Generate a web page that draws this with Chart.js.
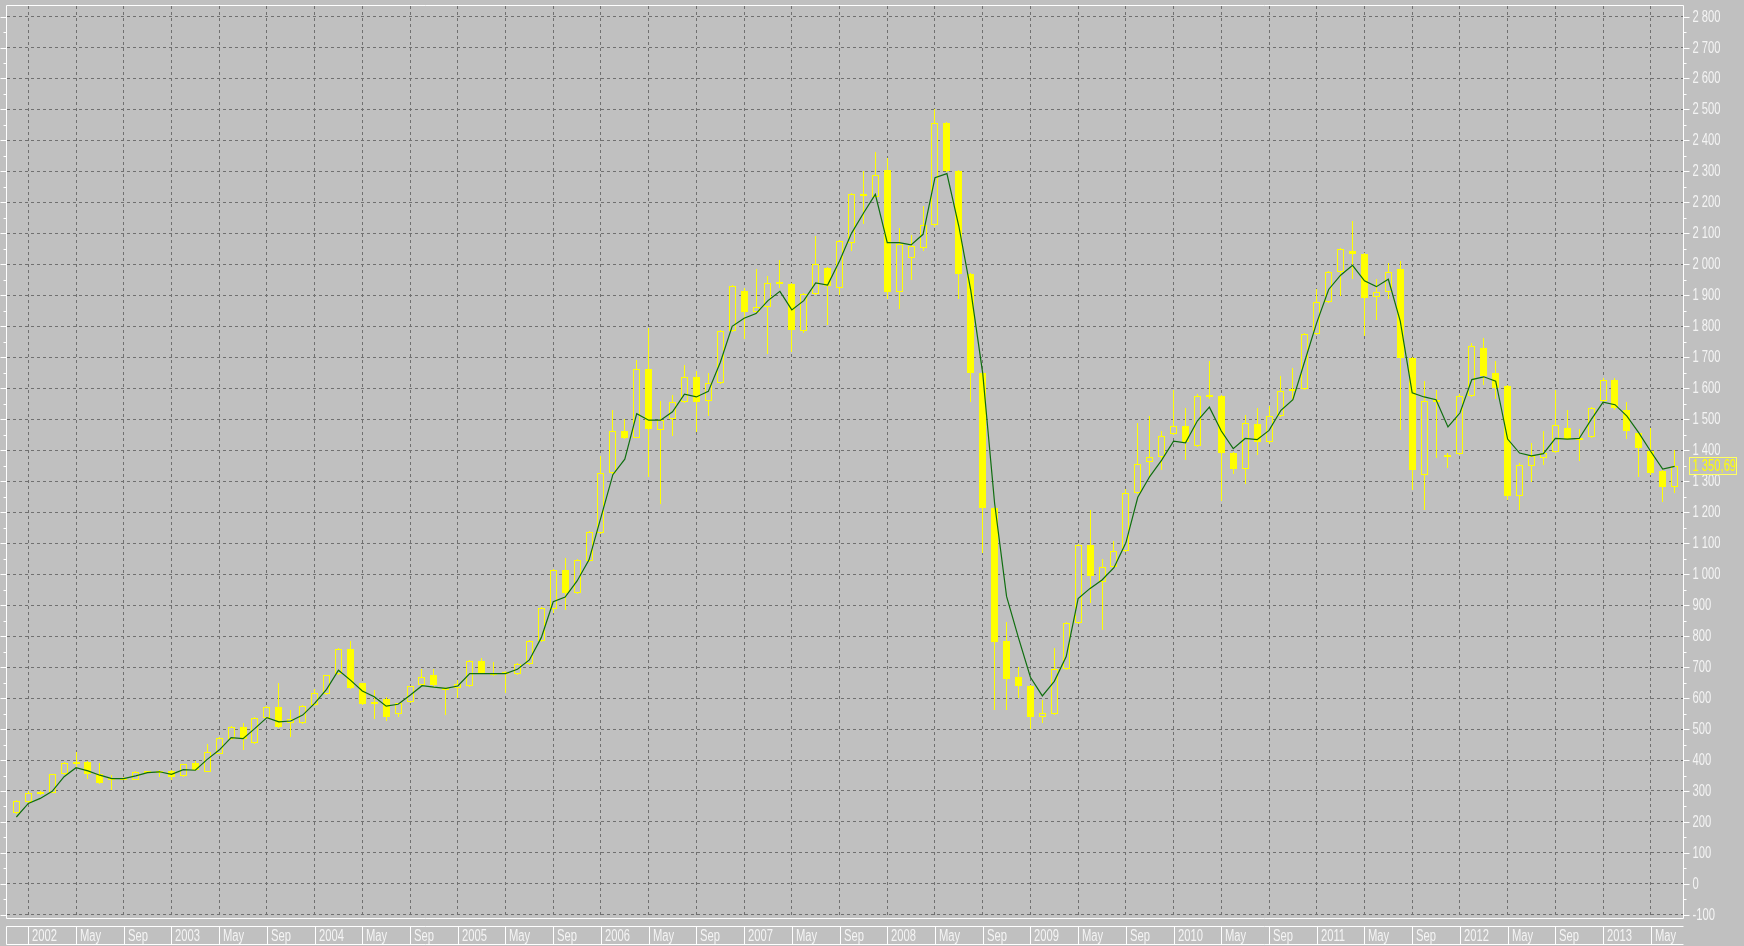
<!DOCTYPE html>
<html>
<head>
<meta charset="utf-8">
<script src="https://cdn.jsdelivr.net/npm/chart.js@4.4.1/dist/chart.umd.min.js"></script>
<style>
  html, body { margin: 0; padding: 0; background: #c0c0c0; overflow: hidden; }
  #wrap { width: 1744px; height: 946px; }
</style>
</head>
<body>
<div id="wrap"><canvas id="chart" width="1744" height="946"></canvas></div>
<script>
// monthly bars, Dec 2001 .. Jul 2013
const years = [2001, 2002, 2003, 2004, 2005, 2006, 2007, 2008, 2009, 2010, 2011, 2012, 2013];
const monthNames = ['Jan', 'Feb', 'Mar', 'Apr', 'May', 'Jun', 'Jul', 'Aug', 'Sep', 'Oct', 'Nov', 'Dec'];

const opens = [
  230, 265, 292, 295, 354, 391, 394, 356, 338, 338, 337, 364, 361, 365, 348, 391, 362, 421, 469, 505,
  455, 537, 572, 520, 520, 577, 612, 677, 757, 647, 582, 598, 548, 586, 642, 675, 634, 633, 639, 721,
  680, 680, 679, 709, 783, 887, 1012, 938, 1042, 1132, 1325, 1461, 1441, 1662, 1465, 1500, 1557, 1635, 1560, 1617,
  1784, 1913, 1845, 1862, 1937, 1937, 1784, 1905, 1988, 1925, 2070, 2222, 2217, 2304, 1910, 2020, 2054, 2127, 2457, 2301,
  1970, 1649, 1215, 783, 667, 640, 540, 547, 694, 841, 1095, 974, 1024, 1075, 1262, 1362, 1379, 1451, 1478, 1415,
  1572, 1575, 1392, 1339, 1486, 1425, 1510, 1590, 1598, 1776, 1878, 1976, 2044, 2033, 1896, 1911, 1984, 1698, 1321, 1558,
  1378, 1389, 1574, 1731, 1648, 1607, 1251, 1348, 1375, 1393, 1472, 1436, 1443, 1558, 1628, 1531, 1456, 1396, 1332, 1281
];
const highs = [
  272, 300, 301, 356, 393, 426, 397, 389, 351, 344, 364, 366, 367, 367, 388, 396, 453, 475, 510, 520,
  538, 575, 647, 561, 577, 628, 676, 760, 785, 650, 625, 603, 585, 640, 695, 693, 636, 657, 723, 729,
  717, 687, 714, 786, 893, 1015, 1052, 1050, 1140, 1381, 1530, 1500, 1692, 1794, 1560, 1578, 1676, 1656, 1650, 1787,
  1932, 1923, 1985, 1961, 2015, 1940, 1908, 2093, 1993, 2080, 2229, 2301, 2364, 2344, 2117, 2096, 2187, 2500, 2460, 2304,
  1972, 1652, 1218, 847, 700, 643, 594, 760, 844, 1098, 1208, 1048, 1108, 1275, 1489, 1509, 1462, 1596, 1535, 1582,
  1689, 1578, 1395, 1515, 1535, 1542, 1639, 1666, 1779, 1919, 1979, 2052, 2141, 2037, 1952, 2006, 2011, 1700, 1623, 1596,
  1390, 1582, 1747, 1763, 1688, 1612, 1360, 1423, 1461, 1596, 1531, 1467, 1540, 1634, 1634, 1555, 1460, 1472, 1335, 1402
];
const lows = [
  225, 262, 287, 292, 352, 378, 340, 322, 303, 335, 335, 358, 345, 335, 346, 366, 360, 419, 466, 432,
  453, 534, 502, 475, 517, 574, 609, 675, 630, 577, 531, 526, 540, 583, 640, 636, 546, 601, 636, 677,
  672, 615, 676, 706, 780, 873, 884, 935, 1038, 1130, 1322, 1436, 1438, 1315, 1225, 1447, 1554, 1459, 1512, 1614,
  1781, 1758, 1840, 1710, 1925, 1716, 1780, 1902, 1805, 1901, 2043, 2130, 2214, 1889, 1856, 1950, 2043, 2120, 2298, 1889,
  1555, 1068, 560, 560, 600, 500, 520, 544, 691, 838, 908, 820, 1020, 1072, 1258, 1315, 1335, 1448, 1368, 1412,
  1565, 1235, 1322, 1291, 1385, 1420, 1507, 1558, 1595, 1773, 1875, 1898, 1952, 1768, 1822, 1887, 1466, 1272, 1208, 1375,
  1342, 1386, 1571, 1612, 1564, 1240, 1208, 1299, 1353, 1390, 1433, 1364, 1440, 1555, 1529, 1436, 1315, 1320, 1234, 1261
];
const closes = [
  267, 294, 296, 354, 391, 393, 356, 326, 341, 342, 362, 361, 365, 346, 386, 369, 426, 472, 507, 469,
  536, 572, 507, 534, 574, 615, 673, 757, 634, 580, 586, 540, 583, 638, 669, 641, 630, 645, 721, 681,
  682, 684, 711, 783, 890, 1012, 938, 1046, 1136, 1325, 1461, 1441, 1662, 1468, 1497, 1557, 1635, 1557, 1617, 1784,
  1929, 1847, 1862, 1940, 1943, 1788, 1905, 2000, 1931, 2077, 2226, 2226, 2290, 1910, 2067, 2058, 2127, 2457, 2301, 1970,
  1649, 1215, 781, 663, 640, 540, 553, 694, 841, 1095, 994, 1024, 1075, 1262, 1355, 1379, 1446, 1478, 1425, 1575,
  1577, 1392, 1339, 1489, 1428, 1510, 1590, 1598, 1776, 1878, 1976, 2049, 2033, 1893, 1911, 1976, 1698, 1337, 1558, 1563,
  1386, 1574, 1736, 1639, 1601, 1251, 1353, 1380, 1391, 1483, 1436, 1440, 1537, 1628, 1537, 1461, 1407, 1328, 1281, 1350.69
];
// moving average line as drawn on the chart
const avgLine = [
  216, 260, 276, 299, 346, 375, 365, 351, 340, 340, 349, 359, 362, 354, 369, 367, 402, 432, 472, 469,
  502, 537, 523, 526, 545, 583, 628, 690, 658, 623, 604, 574, 580, 609, 640, 635, 631, 639, 679, 679,
  679, 679, 693, 723, 795, 911, 926, 978, 1046, 1183, 1321, 1371, 1518, 1497, 1497, 1524, 1581, 1572, 1590, 1683,
  1800, 1826, 1841, 1883, 1913, 1853, 1883, 1940, 1933, 2011, 2100, 2165, 2226, 2070, 2070, 2063, 2097, 2280, 2293, 2123,
  1916, 1649, 1228, 928, 794, 667, 607, 654, 734, 921, 954, 981, 1021, 1101, 1248, 1315, 1368, 1429, 1424, 1495,
  1539, 1462, 1405, 1438, 1434, 1464, 1529, 1563, 1688, 1812, 1919, 1965, 1997, 1947, 1928, 1952, 1817, 1585, 1572, 1563,
  1475, 1520, 1628, 1637, 1623, 1436, 1391, 1382, 1389, 1438, 1436, 1438, 1499, 1555, 1547, 1510, 1456, 1396, 1339, 1348
];

const xTickLabels = [
  '2002', 'May', 'Sep', '2003', 'May', 'Sep', '2004', 'May', 'Sep', '2005', 'May', 'Sep',
  '2006', 'May', 'Sep', '2007', 'May', 'Sep', '2008', 'May', 'Sep', '2009', 'May', 'Sep',
  '2010', 'May', 'Sep', '2011', 'May', 'Sep', '2012', 'May', 'Sep', '2013', 'May'
];
const yTicks = [
  -100, 0, 100, 200, 300, 400, 500, 600, 700, 800, 900, 1000, 1100, 1200, 1300, 1400,
  1500, 1600, 1700, 1800, 1900, 2000, 2100, 2200, 2300, 2400, 2500, 2600, 2700, 2800
];

const BG = '#c0c0c0';
const YELLOW = '#ffff00';
const GRID = '#707070';
const AXIS_TEXT = '#f4f4f4';
const FONT = "'Liberation Sans', Arial, sans-serif";

const allMonths = [];
years.forEach(y => monthNames.forEach(m => allMonths.push(m + ' ' + y)));
const categories = allMonths.slice(allMonths.indexOf('Dec 2001'), allMonths.indexOf('Jul 2013') + 1);

// x ticks sit on Jan / May / Sep
const xTickIdx = [];
categories.forEach((c, i) => {
  const m = c.slice(0, 3);
  if (m === 'Jan' || m === 'May' || m === 'Sep') xTickIdx.push(i);
});

function fmtNum(v) {
  const s = Math.abs(v).toString();
  const t = s.replace(/\B(?=(\d{3})+(?!\d))/g, ' ');
  return (v < 0 ? '-' : '') + t;
}

// narrow label text, like the terminal font
function narrowText(ctx, text, x, y) {
  ctx.save();
  ctx.translate(x, y);
  ctx.scale(0.7, 1);
  ctx.fillText(text, 0, 0);
  ctx.restore();
}

const wickData = categories.map((c, i) => ({ x: i, y: [lows[i], highs[i]] }));
const bodyData = categories.map((c, i) => ({ x: i, y: [opens[i], closes[i]] }));
const avgData = categories.map((c, i) => ({ x: i, y: avgLine[i] }));
const bodyFill = categories.map((c, i) => closes[i] >= opens[i] ? BG : YELLOW);

// keep candle edges on whole pixels so they stay crisp
const snapPlugin = {
  id: 'snap',
  beforeDatasetDraw(chart, args) {
    if (args.meta.type !== 'bar') return;
    args.meta.data.forEach(el => {
      el.x = Math.floor(el.x) + 0.5;
      el.y = Math.round(el.y);
      el.base = Math.round(el.base);
      if (Math.abs(el.base - el.y) < 2) el.base = el.y + 2;
    });
  }
};

const framePlugin = {
  id: 'frame',
  beforeDraw(chart) {
    const { ctx, width, height } = chart;
    ctx.save();
    ctx.fillStyle = BG;
    ctx.fillRect(0, 0, width, height);
    ctx.restore();
  },
  afterDraw(chart) {
    const { ctx, chartArea: a, scales: { x, y } } = chart;
    const L = Math.round(a.left) - 0.5, R = Math.round(a.right) + 0.5;
    const T = Math.round(a.top) - 0.5, B = Math.round(a.bottom) + 0.5;
    ctx.save();
    ctx.strokeStyle = '#ffffff';
    ctx.lineWidth = 1;
    ctx.beginPath();
    ctx.moveTo(L, T); ctx.lineTo(R, T); ctx.lineTo(R, B); ctx.lineTo(L, B); ctx.closePath();
    ctx.stroke();

    // tick marks on both sides, minor ones half way
    ctx.beginPath();
    yTicks.forEach((v, i) => {
      const py = Math.round(y.getPixelForValue(v)) + 0.5;
      ctx.moveTo(R, py); ctx.lineTo(R + 6, py);
      ctx.moveTo(L, py); ctx.lineTo(L - 6, py);
      if (i < yTicks.length - 1) {
        const my = Math.round(y.getPixelForValue((v + yTicks[i + 1]) / 2)) + 0.5;
        ctx.moveTo(R, my); ctx.lineTo(R + 3, my);
        ctx.moveTo(L, my); ctx.lineTo(L - 3, my);
      }
    });
    ctx.stroke();

    ctx.fillStyle = AXIS_TEXT;
    ctx.font = '16px ' + FONT;
    ctx.textAlign = 'left';
    ctx.textBaseline = 'middle';
    yTicks.forEach(v => {
      narrowText(ctx, fmtNum(v), R + 9, Math.round(y.getPixelForValue(v)) + 1);
    });

    // date band under the plot
    const bandTop = B + 8, bandBot = chart.height - 1.5;
    ctx.beginPath();
    ctx.moveTo(L, bandTop); ctx.lineTo(R, bandTop);
    ctx.moveTo(L, bandBot); ctx.lineTo(R, bandBot);
    ctx.moveTo(L, bandTop); ctx.lineTo(L, bandBot);
    xTickIdx.forEach(i => {
      const px = Math.round(x.getPixelForValue(i)) + 0.5;
      ctx.moveTo(px, bandTop); ctx.lineTo(px, bandBot);
    });
    ctx.stroke();

    xTickIdx.forEach((i, k) => {
      const px = Math.round(x.getPixelForValue(i));
      narrowText(ctx, xTickLabels[k], px + 4, (bandTop + bandBot) / 2 + 1);
    });

    // last price tag
    const last = closes[closes.length - 1];
    const py = Math.round(y.getPixelForValue(last));
    ctx.strokeStyle = '#ffff60';
    ctx.strokeRect(R + 6, py - 8.5, 47, 17);
    ctx.fillStyle = YELLOW;
    narrowText(ctx, fmtNum(Math.floor(last)) + ',' + Math.round((last % 1) * 100), R + 9, py + 1);
    ctx.restore();
  }
};

new Chart(document.getElementById('chart'), {
  type: 'bar',
  data: {
    labels: categories,
    datasets: [
      {
        type: 'line',
        data: avgData,
        borderColor: '#0f6e0f',
        borderWidth: 1.2,
        pointRadius: 0,
        tension: 0,
        order: 0
      },
      {
        data: bodyData,
        backgroundColor: bodyFill,
        borderColor: YELLOW,
        borderWidth: 1,
        borderSkipped: false,
        barThickness: 7,
        grouped: false,
        inflateAmount: 0,
        order: 1
      },
      {
        data: wickData,
        backgroundColor: YELLOW,
        borderWidth: 0,
        barThickness: 1,
        grouped: false,
        inflateAmount: 0,
        order: 2
      }
    ]
  },
  options: {
    responsive: false,
    animation: false,
    events: [],
    layout: { padding: { left: 7, top: 6, right: 0, bottom: 0 } },
    plugins: {
      legend: { display: false },
      tooltip: { enabled: false }
    },
    scales: {
      x: {
        type: 'linear',
        offset: false,
        min: -0.785,
        max: 139.7,
        bounds: 'data',
        afterBuildTicks: s => { s.ticks = xTickIdx.map(v => ({ value: v })); },
        afterFit: s => {
          s.height = 28;
          s.paddingLeft = 0; s.paddingRight = 0;
        },
        ticks: { display: false },
        grid: { color: GRID, lineWidth: 1, drawTicks: false, offset: false },
        border: { display: false, dash: [3, 3] }
      },
      y: {
        position: 'right',
        min: -110,
        max: 2834,
        bounds: 'data',
        afterBuildTicks: s => { s.ticks = yTicks.map(v => ({ value: v })); },
        afterFit: s => {
          s.width = 61;
          s.paddingTop = 0; s.paddingBottom = 0;
        },
        ticks: { display: false },
        grid: { color: GRID, lineWidth: 1, drawTicks: false },
        border: { display: false, dash: [3, 3] }
      }
    }
  },
  plugins: [snapPlugin, framePlugin]
});
</script>
</body>
</html>
